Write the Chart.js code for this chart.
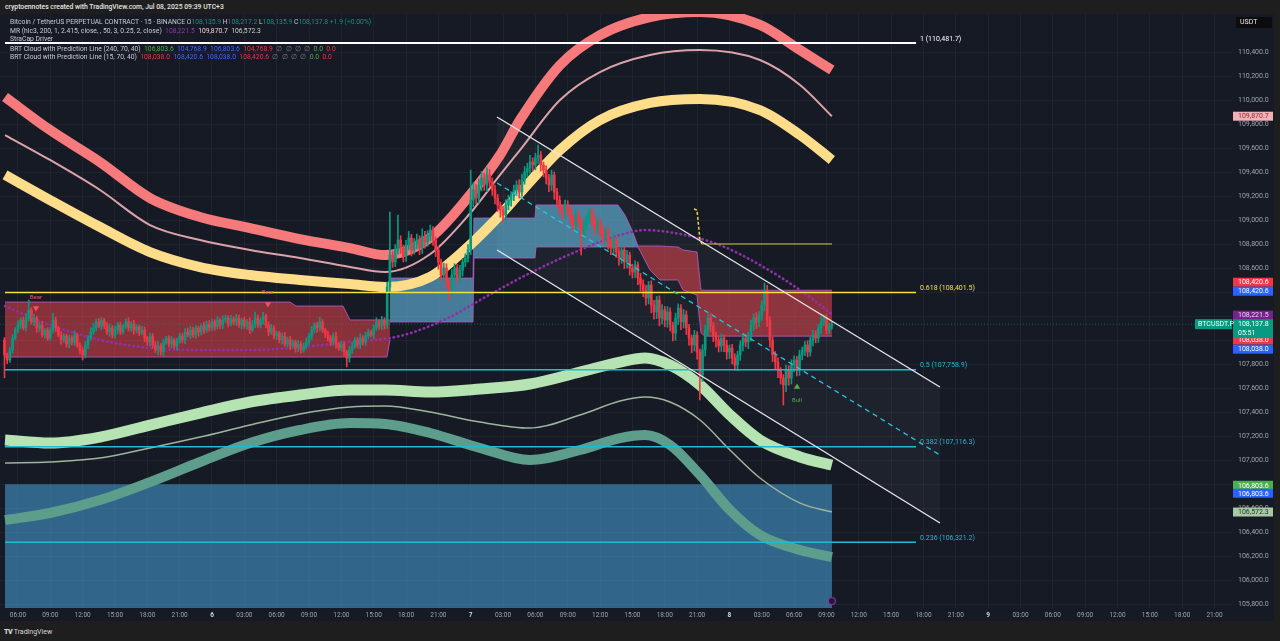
<!DOCTYPE html>
<html>
<head>
<meta charset="utf-8">
<title>BTCUSDT.P 15m</title>
<script src="https://cdn.jsdelivr.net/npm/chart.js@4.4.1/dist/chart.umd.min.js"></script>
<style>
  html, body { margin: 0; padding: 0; background: #1e1e1e; }
  body { width: 1280px; height: 641px; overflow: hidden; position: relative; font-family: Roboto, "Noto Sans", Arial, sans-serif; }
  #head { position: absolute; left: 5px; top: 3px; font-size: 6.8px; font-weight: 500; color: #e6e6e6; white-space: pre; }
  #box { position: absolute; left: 0; top: 14px; width: 1274px; height: 607px; background: #161a25; }
  .lg { position: absolute; left: 10px; font-size: 6.75px; line-height: 8px; color: #c8cbd3; white-space: pre; z-index: 2; }
  .k { color: #c8cbd3; } .g { color: #089981; } .r { color: #f23645; } .b { color: #3d6cff; }
  .gr { color: #4caf50; } .n { color: #787b86; } .pu { color: #8e3aa8; } .pk { color: #f3cfd2; } .sg { color: #c6d3c5; }
  #foot { position: absolute; left: 4px; top: 628px; font-size: 7px; color: #d8d8d8; white-space: pre; }
  #foot b { font-weight: 900; letter-spacing: -0.5px; }
</style>
</head>
<body>
<div id="head">cryptoennotes created with TradingView.com, Jul 08, 2025 09:39 UTC+3</div>
<div id="box"><canvas id="c" width="1274" height="607"></canvas></div>
<div class="lg" style="top:18px">Bitcoin / TetherUS PERPETUAL CONTRACT · 15 · BINANCE <span class="k">O</span><span class="g">108,135.9</span> <span class="k">H</span><span class="g">108,217.2</span> <span class="k">L</span><span class="g">108,135.9</span> <span class="k">C</span><span class="g">108,137.8</span> <span class="g">+1.9 (+0.00%)</span></div>
<div class="lg" style="top:27px">MR (hlc3, 200, 1, 2.415, close, , 50, 3, 0.25, 2, close)  <span class="pu">108,221.5</span>  <span class="pk">109,870.7</span>  <span class="sg">106,572.3</span></div>
<div class="lg" style="top:35px">StraCap Driver</div>
<div class="lg" style="top:45px">BRT Cloud with Prediction Line (240, 70, 40)  <span class="gr">106,803.6</span>  <span class="b">104,768.9</span>  <span class="b">106,803.6</span>  <span class="r">104,768.9</span>  <span class="n">∅  ∅  ∅  ∅</span>  <span class="gr">0.0</span>  <span class="r">0.0</span></div>
<div class="lg" style="top:53px">BRT Cloud with Prediction Line (15, 70, 40)  <span class="r">108,038.0</span>  <span class="b">108,420.6</span>  <span class="b">108,038.0</span>  <span class="r">108,420.6</span>  <span class="n">∅  ∅  ∅  ∅</span>  <span class="gr">0.0</span>  <span class="r">0.0</span></div>
<div id="foot"><b>TV</b> TradingView</div>
<script>
// time axis is in hours from Jul 5 00:00, price axis in USDT
const xMin = 4.334, xMax = 118.62;
const yMin = 105772.5, yMax = 110722.5;

const tickHours = [6, 9, 12, 15, 18, 21, 24, 27, 30, 33, 36, 39, 42, 45, 48, 51, 54, 57, 60, 63, 66, 69, 72, 75, 78, 81, 84, 87, 90, 93, 96, 99, 102, 105, 108, 111, 114, 117];
const tickLabels = ['06:00', '09:00', '12:00', '15:00', '18:00', '21:00', '6', '03:00', '06:00', '09:00', '12:00', '15:00', '18:00', '21:00', '7', '03:00', '06:00', '09:00', '12:00', '15:00', '18:00', '21:00', '8', '03:00', '06:00', '09:00', '12:00', '15:00', '18:00', '21:00', '9', '03:00', '06:00', '09:00', '12:00', '15:00', '18:00', '21:00'];
const priceTicks = [105800, 106000, 106200, 106400, 106600, 106800, 107000, 107200, 107400, 107600, 107800, 108000, 108200, 108400, 108600, 108800, 109000, 109200, 109400, 109600, 109800, 110000, 110200, 110400];

// 15 minute candles, first one at 04:45 Jul 5
const candleStart = 4.75, candleStep = 0.25;
const firstOpen = 108006;
const closes = [
  107881,
  107839,107922,108022,108089, // 05
  108131,108172,108106,108189,
  108256,108156,108189,108106,
  108131,108047,108089,108022,
  108089,108172,108106,108047,
  108006,108039,107972,108022,
  107989,108047,107964,107922,
  107881,107964,108022,108072, // 12
  108106,108156,108122,108172,
  108131,108072,108106,108047,
  108089,108131,108072,108122,
  108156,108106,108139,108089,
  108114,108064,108089,108022,
  107989,108039,107964,107922,
  107956,107906,107989,108022,
  107972,108006,107956,107997,
  108039,108006,108072,108047,
  108089,108047,108106,108072,
  108122,108089,108139,108106, // 23
  108156,108122,108172,108131, // Jul 6 00
  108172,108189,108139,108181,
  108156,108189,108131,108172,
  108122,108156,108089,108139,
  108189,108131,108172,108206,
  108131,108072,108106,108039,
  108064,108006,108039,107972,
  108006,107956,107989,107939,
  107972,107922,107956,107989,
  108039,108089,108131,108106,
  108156,108089,108056,108022,
  107989,108039,107972,107939,
  107972,107906,107856,107922, // 12
  107956,108006,107964,108022,
  107989,108039,108072,108047,
  108106,108156,108122,108172,
  108131,108447,108714,108656, // 16
  108756,108839,108772,108706,
  108797,108856,108756,108806,
  108839,108772,108872,108822,
  108872,108922,108839,108756,
  108656,108547,108606,108489,
  108422,108547,108606,108522,
  108589,108656,108689,108756, // 23
  109172,109256,109189,109297, // Jul 7 00
  109356,109297,109381,109322,
  109256,109189,109131,109089,
  109047,109131,109172,109206,
  109256,109297,109239,109339,
  109406,109439,109489,109464,
  109522,109547,109464,109422,
  109356,109297,109381,109239,
  109172,109106,109072,109131,
  109089,109022,108964,109047,
  108989,108881,108964,109022,
  109072,109006,108939,108989,
  108922,108856,108906,108822, // 12
  108772,108839,108739,108689,
  108756,108656,108714,108606,
  108572,108631,108522,108472,
  108422,108356,108464,108297,
  108239,108339,108189,108256,
  108172,108239,108131,108064,
  108189,108272,108156,108214,
  108106,108022,107964,108047,
  107906,107714,107922,108089, // 21
  108189,108122,108047,108006,
  107956,108022,107964,107906, // 23
  107939,107856,107797,107881, // Jul 8 00
  107964,108022,107989,108047,
  108131,108189,108156,108214,
  108297,108422,108172,108006,
  107881,107822,107756,107689,
  107631,107756,107689,107797,
  107839,107756,107881,107922,
  107964,107906,108006,108047,
  108022,108106,108156,108189,
  108089,108122,108137.8        // 09
];
const wickUp = [
  20,
  15,25,30,20, 35,20,25,40, 83,20,30,15, 25,30,15,20, 20,58,25,15, 30,20,15,25, 20,35,15,20,
  25,30,20,35, 40,25,30,20, 15,25,35,20, 30,20,25,15, 25,35,20,30, 20,15,30,25, 15,25,20,30,
  35,20,25,15, 20,30,15,25, 25,20,30,35, 30,25,20,15, 20,35,25,30,
  25,20,30,15, 35,25,20,30, 20,30,25,15, 25,20,35,30, 50,25,20,30, 15,25,30,20, 20,15,25,30,
  25,30,20,15, 30,20,25,35, 25,30,20,25, 40,20,15,25, 20,25,30,15, 25,20,15,30, 30,25,20,35,
  20,30,25,15, 25,35,20,30, 20,40,358,30, 45,208,35,25, 40,55,30,45, 50,35,60,40, 45,42,30,25,
  30,25,40,35, 25,45,35,30, 40,30,35,45,
  250,60,45,50, 55,40,60,45, 35,40,30,25, 30,45,40,35, 40,35,45,50, 45,40,55,35, 40,83,30,25,
  35,30,40,25, 30,35,25,40, 35,30,25,45, 40,30,35,25, 30,35,40,30, 25,35,30,40, 30,40,25,35,
  35,30,40,25, 30,35,25,40, 35,40,30,35, 40,30,35,45, 30,45,35,25, 40,35,30,45, 35,30,25,40,
  30,25,45,40, 35,40,30,25, 30,35,25,40,
  25,30,35,30, 35,40,30,25, 40,35,45,30, 35,58,40,30, 25,30,35,20, 30,40,35,45, 35,30,40,25,
  30,35,25,40, 35,30,40,25, 30,25,20
];
const wickDown = [
  190,
  30,20,25,15, 20,30,15,25, 25,20,30,35, 30,15,25,20, 20,25,30,15, 35,20,25,30, 25,30,20,35,
  42,25,30,20, 20,25,15,30, 30,20,35,25, 25,30,20,15, 20,25,30,35, 25,20,15,30, 30,35,25,20,
  40,25,30,20, 25,30,20,35, 20,25,30,15, 30,20,25,35, 25,30,20,25,
  20,35,25,30, 30,20,25,15, 25,30,20,35, 20,25,30,15, 30,20,25,35, 25,30,20,25, 30,25,35,20,
  25,30,20,35, 30,25,20,25, 20,30,25,35, 25,20,30,25, 30,25,35,20, 25,30,75,35, 30,20,25,30,
  25,30,20,15, 30,20,25,30, 35,30,40,45, 40,35,45,50, 45,40,50,35, 40,55,45,50, 35,40,45,55,
  60,45,50,55, 83,50,45,40, 45,50,40,35,
  40,55,50,45, 50,45,55,40, 45,50,55,60, 55,45,40,50, 40,45,50,35, 35,40,45,50, 40,45,50,55,
  50,55,45,60, 55,50,60,45, 50,55,45,60, 45,167,50,40, 45,50,55,45, 50,45,55,60, 55,50,45,60,
  45,55,50,60, 50,45,55,60, 55,60,50,65, 60,55,65,50, 55,60,50,65, 60,55,65,50, 55,60,65,50,
  60,208,55,50, 45,50,55,60, 50,45,55,60,
  55,50,42,45, 45,50,40,55, 50,45,55,40, 45,50,55,60, 55,60,65,50, 167,55,60,50, 55,50,45,40,
  45,40,35,50, 40,35,45,30, 35,30,25
];
const lastPrice = 108137.8;
const countdown = '05:51';

// MR bands
const upperHours = [4.80, 8.97, 13.61, 18.25, 22.89, 27.53, 32.16, 36.80, 40.05, 44.22, 47.93, 50.72, 52.57, 56.28, 59.99, 64.63, 69.27, 74.83, 78.55, 81.5];
const bandRed    = [110031, 109756, 109489, 109189, 109031, 108939, 108847, 108772, 108714, 108856, 109214, 109547, 109839, 110297, 110547, 110697, 110739, 110631, 110422, 110256];
const bandPink   = [109714, 109506, 109256, 108964, 108839, 108756, 108689, 108614, 108572, 108720, 109060, 109381, 109589, 110006, 110239, 110381, 110422, 110339, 110131, 109870.7];
const bandYellow = [109381, 109172, 108947, 108739, 108614, 108547, 108506, 108472, 108447, 108531, 108797, 109047, 109231, 109589, 109839, 109981, 110014, 109922, 109714, 109506];
const lowerHours = [4.80, 8.97, 13.61, 18.25, 22.89, 27.53, 32.16, 36.80, 40.05, 44.22, 48.86, 53.50, 58.14, 61.85, 64.17, 66.49, 69.27, 72.05, 74.83, 78.55, 81.5];
const bandLight  = [107172, 107147, 107197, 107297, 107397, 107489, 107547, 107589, 107589, 107572, 107597, 107639, 107739, 107822, 107856, 107797, 107631, 107381, 107172, 107031, 106964];
const bandSage   = [106981, 106989, 107022, 107106, 107197, 107297, 107389, 107447, 107456, 107406, 107322, 107272, 107381, 107497, 107531, 107489, 107339, 107089, 106856, 106647, 106572.3];
const bandTeal   = [106506, 106564, 106672, 106822, 106989, 107147, 107256, 107314, 107306, 107231, 107106, 107006, 107089, 107189, 107214, 107131, 106881, 106589, 106381, 106256, 106197];
const mrHours  = [4.80, 8.97, 13.61, 18.25, 22.89, 27.53, 32.16, 36.80, 41.44, 46.08, 48.86, 53.50, 58.14, 61.85, 64.17, 67.41, 71.12, 74.83, 78.55, 81.5];
const mrCenter = [108289, 108131, 108006, 107939, 107922, 107922, 107947, 107989, 108039, 108197, 108339, 108564, 108756, 108881, 108922, 108889, 108797, 108631, 108422, 108221.5];

// BRT clouds
const cloudA_h   = [4.80, 31.24, 31.79, 36.15, 36.80, 40.23, 40.51];
const cloudA_top = [108322, 108322, 108289, 108289, 108173, 108173, 108173];
const cloudA_bot = [107864, 107864, 107864, 107864, 107864, 107864, 108006];
const cloudB_h   = [40.51, 48.21, 48.30, 53.96, 54.06, 61.66, 62.31, 62.96, 63.52];
const cloudB_top = [108522, 108522, 109022, 109022, 109131, 109131, 109047, 108922, 108789];
const cloudB_bot = [108156, 108156, 108689, 108689, 108781, 108781, 108781, 108781, 108781];
const cloudC_h   = [63.52, 64.63, 65.56, 67.23, 67.69, 68.99, 69.36, 69.73, 81.51];
const cloudC_top = [108789, 108789, 108789, 108781, 108756, 108739, 108422, 108420.6, 108420.6];
const cloudC_bot = [108781, 108589, 108506, 108506, 108422, 108381, 108064, 108038.0, 108038.0];
const bigBoxHours = [4.80, 81.51];
const bigBoxTop = 106803.6, bigBoxBottom = 104768.9;

// prediction line (yellow)
const predHours  = [68.71, 68.99, 69.27, 69.45];
const predPrices = [109097, 109089, 108839, 108806];
const predFlatHours = [69.45, 81.51];
const predFlat = 108806;

// fibonacci
const fibStart = 4.80, fibEnd = 89.31, fibLabelHour = 89.68;
const fibRatios = ['1', '0.618', '0.5', '0.382', '0.236'];
const fibLevels = [110481.7, 108401.5, 107758.9, 107116.3, 106321.2];

// channel
const channelHours = [50.44, 91.53];
const channelUpper = [109864, 107614];
const channelMid   = [109314, 107047];
const channelLower = [108756, 106481];

// signals
const bearHours = [7.67, 29.19], bearPrices = [108272, 108306];
const bullHours = [78.27], bullPrices = [107614];

// right axis tags
const tagPrices = [109870.7, 108420.6, 108420.6, 108221.5, 108038.0, 108038.0, 106803.6, 106803.6, 106572.3];
const tagStyle = [
  { bg: '#efb2b7', fg: '#8a2c36', dy: 0 },
  { bg: '#f23645', fg: '#ffffff', dy: -8 },
  { bg: '#2962ff', fg: '#ffffff', dy: 1 },
  { bg: '#7b1f8c', fg: '#ead8f0', dy: 1 },
  { bg: '#f23645', fg: '#ffffff', dy: 4 },
  { bg: '#2962ff', fg: '#ffffff', dy: 13 },
  { bg: '#4caf50', fg: '#ffffff', dy: 1 },
  { bg: '#2962ff', fg: '#ffffff', dy: 9 },
  { bg: '#a9c9a6', fg: '#1c3320', dy: 0 }
];

const GREEN = '#089981', RED = '#f23645';
const fmt = v => v.toLocaleString('en-US', { minimumFractionDigits: 1, maximumFractionDigits: 1 });
const isDayTick = ctx => !!(ctx.tick && ctx.tick.value % 24 === 0);

function line(hours, prices, style) {
  return Object.assign({
    type: 'line',
    data: hours.map((h, i) => ({ x: h, y: Array.isArray(prices) ? prices[i] : prices })),
    pointRadius: 0, fill: false, borderWidth: 1, clip: 0
  }, style);
}

// candles
const n = Math.min(closes.length, wickUp.length, wickDown.length);
const bodies = [], wicks = [], colors = [];
for (let i = 0; i < n; i++) {
  const t = candleStart + i * candleStep;
  const o = i === 0 ? firstOpen : closes[i - 1];
  const c = closes[i];
  bodies.push({ x: t, y: [o, c] });
  wicks.push({ x: t, y: [Math.min(o, c) - wickDown[i], Math.max(o, c) + wickUp[i]] });
  colors.push(c >= o ? GREEN : RED);
}

const datasets = [];
// channel shading
datasets.push(line(channelHours, channelUpper, { borderColor: 'transparent', order: 30 }));
datasets.push(line(channelHours, channelLower, { borderColor: 'transparent', fill: '-1', backgroundColor: 'rgba(255,255,255,0.035)', order: 30 }));
// large cloud box
datasets.push(line(bigBoxHours, bigBoxTop, { borderColor: 'transparent', order: 29 }));
datasets.push(line(bigBoxHours, bigBoxBottom, { borderColor: 'transparent', fill: '-1', backgroundColor: 'rgba(66,150,200,0.62)', order: 29 }));
// short clouds
const cloudEdge = 'rgba(178,92,196,0.85)';
[[cloudA_h, cloudA_top, cloudA_bot, 'rgba(242,70,80,0.52)'],
 [cloudB_h, cloudB_top, cloudB_bot, 'rgba(100,185,225,0.62)'],
 [cloudC_h, cloudC_top, cloudC_bot, 'rgba(242,70,80,0.52)']].forEach(([h, top, bot, col]) => {
  datasets.push(line(h, top, { borderColor: cloudEdge, order: 28 }));
  datasets.push(line(h, bot, { borderColor: cloudEdge, fill: '-1', backgroundColor: col, order: 28 }));
});
// MR bands
const smooth = { cubicInterpolationMode: 'monotone' };
datasets.push(line(upperHours, bandRed, Object.assign({ borderColor: '#f6797c', borderWidth: 10, order: 20 }, smooth)));
datasets.push(line(upperHours, bandPink, Object.assign({ borderColor: '#dba3a9', borderWidth: 2, order: 20 }, smooth)));
datasets.push(line(upperHours, bandYellow, Object.assign({ borderColor: '#fddd8a', borderWidth: 10, order: 20 }, smooth)));
datasets.push(line(lowerHours, bandLight, Object.assign({ borderColor: '#b5e3b1', borderWidth: 11, order: 20 }, smooth)));
datasets.push(line(lowerHours, bandSage, Object.assign({ borderColor: '#9db59c', borderWidth: 1.5, order: 20 }, smooth)));
datasets.push(line(lowerHours, bandTeal, Object.assign({ borderColor: '#5c9d8b', borderWidth: 10, order: 20 }, smooth)));
datasets.push(line(mrHours, mrCenter, Object.assign({ borderColor: '#9030a8', borderWidth: 2.6, borderDash: [0.5, 4], borderCapStyle: 'round', order: 18 }, smooth)));
// prediction line
datasets.push(line(predHours, predPrices, { borderColor: '#e8d544', borderWidth: 1.5, borderDash: [3, 2], order: 17 }));
datasets.push(line(predFlatHours, predFlat, { borderColor: '#d8c93c', borderWidth: 1, order: 17 }));
// candles
datasets.push({ type: 'bar', data: wicks, backgroundColor: colors, barThickness: 1, grouped: false, order: 10 });
datasets.push({ type: 'bar', data: bodies, backgroundColor: colors, barThickness: 2, minBarLength: 1, grouped: false, order: 9 });
// last price line
datasets.push(line([xMin, xMax], lastPrice, { borderColor: 'rgba(8,153,129,0.55)', borderDash: [1, 2], order: 8 }));
// fib levels
const fibColors = ['#ffffff', '#f2e23b', '#1fbcd2', '#1fbcd2', '#1fbcd2'];
fibLevels.forEach((p, i) => {
  datasets.push(line([fibStart, fibEnd], p, { borderColor: fibColors[i], borderWidth: i === 0 ? 2 : 1.5, order: 6 }));
});
// channel lines
datasets.push(line(channelHours, channelUpper, { borderColor: '#e8e8ec', borderWidth: 1.3, order: 4 }));
datasets.push(line(channelHours, channelLower, { borderColor: '#e8e8ec', borderWidth: 1.3, order: 4 }));
datasets.push(line(channelHours, channelMid, { borderColor: '#26c6da', borderWidth: 1.3, borderDash: [5, 4], order: 4 }));
// signals
datasets.push(line(bearHours, bearPrices, { showLine: false, pointStyle: 'triangle', rotation: 180, pointRadius: 3.5, pointBorderWidth: 0, pointBackgroundColor: '#f7525f', order: 2 }));
datasets.push(line(bullHours, bullPrices, { showLine: false, pointStyle: 'triangle', pointRadius: 3.5, pointBorderWidth: 0, pointBackgroundColor: '#4caf50', order: 2 }));

const overlay = {
  id: 'overlay',
  beforeDraw(chart) {
    const c = chart.ctx;
    c.save();
    c.fillStyle = '#161a25';
    c.fillRect(0, 0, chart.width, chart.height);
    c.restore();
  },
  afterDraw(chart) {
    const { ctx, chartArea } = chart;
    const x = chart.scales.x, y = chart.scales.y;
    ctx.save();
    // fib labels
    ctx.font = '7px Roboto';
    ctx.textAlign = 'left';
    ctx.textBaseline = 'bottom';
    fibLevels.forEach((p, i) => {
      ctx.fillStyle = fibColors[i];
      ctx.fillText(fibRatios[i] + ' (' + fmt(p) + ')', x.getPixelForValue(fibLabelHour), y.getPixelForValue(p) - 0.5);
    });
    // signal texts
    ctx.font = '6px Roboto';
    ctx.textAlign = 'center';
    ctx.textBaseline = 'middle';
    ctx.fillStyle = '#f7525f';
    bearHours.forEach((h, i) => ctx.fillText('Bear', x.getPixelForValue(h), y.getPixelForValue(bearPrices[i]) - 11));
    ctx.fillStyle = '#4caf50';
    bullHours.forEach((h, i) => ctx.fillText('Bull', x.getPixelForValue(h), y.getPixelForValue(bullPrices[i]) + 13));

    // axis tags
    const left = chartArea.right + 1, w = 40;
    ctx.font = '7px Roboto';
    ctx.textAlign = 'left';
    tagPrices.forEach((p, i) => {
      const s = tagStyle[i];
      const yy = y.getPixelForValue(p) + s.dy;
      ctx.fillStyle = s.bg;
      ctx.fillRect(left, yy - 4.5, w, 9);
      ctx.fillStyle = s.fg;
      ctx.fillText(fmt(p), left + 5, yy + 0.5);
    });
    // last price tag + symbol
    const ly = y.getPixelForValue(lastPrice);
    ctx.fillStyle = GREEN;
    ctx.fillRect(left, ly - 5, w, 19);
    ctx.fillRect(chartArea.right - 37, ly - 5, 37, 10);
    ctx.fillStyle = '#ffffff';
    ctx.fillText(fmt(lastPrice), left + 5, ly);
    ctx.fillText(countdown, left + 5, ly + 9);
    ctx.fillText('BTCUSDT.P', chartArea.right - 34, ly);
    // currency box
    ctx.fillStyle = '#0c0c0e';
    ctx.fillRect(left + 3, 3, 36, 11);
    ctx.fillStyle = '#e8e8e8';
    ctx.fillText('USDT', left + 7, 8.5);
    // time marker
    ctx.strokeStyle = '#9c27b0';
    ctx.fillStyle = '#1d1f2b';
    ctx.lineWidth = 1.2;
    ctx.beginPath();
    ctx.arc(x.getPixelForValue(81.5), chartArea.bottom - 7, 3.5, 0, Math.PI * 2);
    ctx.fill();
    ctx.stroke();
    ctx.restore();
  }
};

const gridColor = 'rgba(255,255,255,0.045)';
new Chart(document.getElementById('c'), {
  type: 'bar',
  data: { datasets: datasets },
  options: {
    responsive: false,
    animation: false,
    devicePixelRatio: 1,
    layout: { padding: 0, autoPadding: false },
    plugins: { legend: { display: false }, tooltip: { enabled: false } },
    scales: {
      x: {
        type: 'linear', min: xMin, max: xMax, offset: false,
        afterBuildTicks: s => { s.ticks = tickHours.map(v => ({ value: v })); },
        afterFit: s => { s.height = 13; s.paddingLeft = 0; s.paddingRight = 0; },
        grid: { color: gridColor, drawTicks: false, offset: false },
        border: { display: false },
        ticks: {
          autoSkip: false, maxRotation: 0, padding: 3,
          color: ctx => isDayTick(ctx) ? '#d6d8de' : '#a0a3ab',
          font: ctx => ({ family: 'Roboto', size: 6.5, weight: isDayTick(ctx) ? 'bold' : 'normal' }),
          callback: (v, i) => tickLabels[i]
        }
      },
      y: {
        position: 'right', min: yMin, max: yMax,
        afterBuildTicks: s => { s.ticks = priceTicks.map(v => ({ value: v })); },
        afterFit: s => { s.width = 42; s.paddingTop = 0; s.paddingBottom = 0; },
        grid: { color: gridColor, drawTicks: false },
        border: { display: false },
        ticks: { padding: 6, color: '#a0a3ab', font: { family: 'Roboto', size: 7 }, callback: v => fmt(v) }
      }
    }
  },
  plugins: [overlay]
});
</script>
</body>
</html>
